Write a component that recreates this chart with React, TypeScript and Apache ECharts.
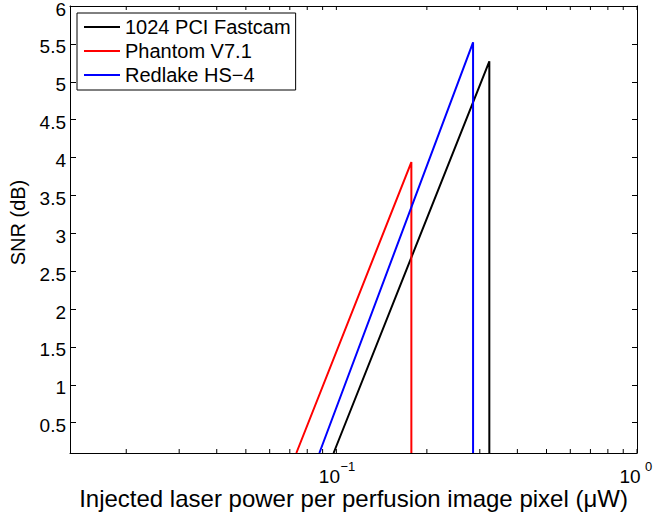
import React, { useEffect, useRef } from 'react';
import * as echarts from 'echarts';

// ---- data ----
const seriesNames = ['1024 PCI Fastcam', 'Phantom V7.1', 'Redlake HS−4'];
const seriesColors = ['#000000', '#ff0000', '#0000ff'];

const fastcamPower = [0.0979, 0.3227, 0.3227];
const fastcamSNR = [0.1, 5.27, 0.1];
const phantomPower = [0.0736, 0.1776, 0.1776];
const phantomSNR = [0.1, 3.94, 0.1];
const redlakePower = [0.0878, 0.2849, 0.2849];
const redlakeSNR = [0.1, 5.52, 0.1];

const yTickValues = [0.5, 1, 1.5, 2, 2.5, 3, 3.5, 4, 4.5, 5, 5.5, 6];
const xTickValues = [0.02, 0.03, 0.04, 0.05, 0.06, 0.07, 0.08, 0.09, 0.1, 0.2, 0.3, 0.4, 0.5, 0.6, 0.7, 0.8, 0.9, 1];

const X_MIN = 0.013;
const X_MAX = 1;
const Y_MIN = 0.1;
const Y_MAX = 6;

const FONT = "'Liberation Sans', Arial, Helvetica, sans-serif";

function pairs(xs: number[], ys: number[]) {
  return xs.map((x, i) => [x, ys[i]]);
}

function decadeExponent(v: number): number | null {
  const l = Math.log10(v);
  const e = Math.round(l);
  return Math.abs(l - e) < 1e-6 ? e : null;
}

export default function App() {
  const ref = useRef<HTMLDivElement>(null);

  useEffect(() => {
    if (!ref.current) return;
    const chart = echarts.init(ref.current, null, { renderer: 'svg' });

    const powers = [fastcamPower, phantomPower, redlakePower];
    const snrs = [fastcamSNR, phantomSNR, redlakeSNR];

    const lineSeries = seriesNames.map((name, i) => ({
      name,
      type: 'line',
      xAxisIndex: 0,
      yAxisIndex: 0,
      data: pairs(powers[i], snrs[i]),
      symbol: 'none',
      showSymbol: false,
      color: seriesColors[i],
      lineStyle: { color: seriesColors[i], width: 2 },
      clip: true,
      z: 3,
    }));

    const option: any = {
      animation: false,
      backgroundColor: '#ffffff',
      textStyle: { fontFamily: FONT, color: '#000' },
      grid: { left: 70, top: 6, right: 16, bottom: 62, containLabel: false, outerBoundsMode: 'none' },
      legend: {
        data: seriesNames.map((n) => ({ name: n, icon: 'rect' })),
        orient: 'vertical',
        left: 77,
        top: 13,
        padding: [4, 5, 5, 7],
        itemGap: 4,
        itemWidth: 36,
        itemHeight: 2,
        backgroundColor: '#ffffff',
        borderColor: '#000000',
        borderWidth: 1,
        borderRadius: 0,
        textStyle: { fontFamily: FONT, fontSize: 20, color: '#000' },
      },
      xAxis: [
        {
          type: 'log',
          logBase: 10,
          min: X_MIN,
          max: X_MAX,
          position: 'bottom',
          axisLine: { show: true, lineStyle: { color: '#000', width: 1 } },
          axisTick: { show: false },
          splitLine: { show: false },
          axisLabel: {
            margin: 16,
            color: '#000',
            fontFamily: FONT,
            fontSize: 19,
            lineHeight: 14,
            padding: [0, 14, 0, 0],
            formatter: (v: number) => (decadeExponent(v) === null ? '' : '10'),
          },
          name: 'Injected laser power per perfusion image pixel (μW)',
          nameLocation: 'middle',
          nameGap: 33,
          nameMoveOverlap: false,
          nameTextStyle: { fontFamily: FONT, fontSize: 24, color: '#000' },
        },
        {
          type: 'log',
          logBase: 10,
          min: X_MIN,
          max: X_MAX,
          position: 'top',
          axisLine: { show: true, lineStyle: { color: '#000', width: 1 } },
          axisTick: { show: false },
          splitLine: { show: false },
          axisLabel: { show: false },
        },
        {
          // exponents of the decade labels (superscripts)
          type: 'log',
          logBase: 10,
          min: X_MIN,
          max: X_MAX,
          position: 'bottom',
          axisLine: { show: false },
          axisTick: { show: false },
          splitLine: { show: false },
          axisLabel: {
            margin: 9,
            color: '#000',
            fontFamily: FONT,
            fontSize: 13,
            lineHeight: 8,
            padding: [0, 0, 0, 23],
            formatter: (v: number) => {
              const e = decadeExponent(v);
              if (e === null) return '';
              return e < 0 ? '−' + -e : String(e);
            },
          },
        },
      ],
      yAxis: [
        {
          type: 'value',
          min: Y_MIN,
          max: Y_MAX,
          position: 'left',
          axisLine: { show: true, lineStyle: { color: '#000', width: 1 } },
          axisTick: { show: true, inside: true, length: 6, customValues: yTickValues, lineStyle: { color: '#000' } },
          splitLine: { show: false },
          axisLabel: {
            customValues: yTickValues,
            margin: 4,
            fontFamily: FONT,
            fontSize: 19,
            lineHeight: 6,
            verticalAlign: 'top',
            color: '#000',
          },
          name: 'SNR (dB)',
          nameLocation: 'middle',
          nameRotate: 90,
          nameGap: 42,
          nameMoveOverlap: false,
          nameTextStyle: { fontFamily: FONT, fontSize: 20, color: '#000', padding: [0, 0, 0, 14] },
        },
        {
          type: 'value',
          min: Y_MIN,
          max: Y_MAX,
          position: 'right',
          axisLine: { show: true, lineStyle: { color: '#000', width: 1 } },
          axisTick: { show: true, inside: true, length: 5, customValues: yTickValues, lineStyle: { color: '#000' } },
          splitLine: { show: false },
          axisLabel: { show: false },
        },
      ],
      series: [
        {
          type: 'custom',
          name: 'xticks',
          xAxisIndex: 0,
          yAxisIndex: 0,
          silent: true,
          data: xTickValues.map((v) => [v, Y_MIN]),
          encode: { x: 0, y: 1 },
          renderItem: (params: any, api: any) => {
            const v = api.value(0);
            const b = api.coord([v, Y_MIN]);
            const t = api.coord([v, Y_MAX]);
            return {
              type: 'group',
              children: [
                { type: 'line', shape: { x1: b[0], y1: b[1], x2: b[0], y2: b[1] - 4 }, style: { stroke: '#000', lineWidth: 1 } },
                { type: 'line', shape: { x1: t[0], y1: t[1], x2: t[0], y2: t[1] + 4 }, style: { stroke: '#000', lineWidth: 1 } },
              ],
            };
          },
          z: 2,
        },
        ...lineSeries,
      ],
    };

    chart.setOption(option);
    return () => chart.dispose();
  }, []);

  return (
    <div
      ref={ref}
      style={{ position: 'absolute', left: 0, top: 0, width: 653, height: 515, background: '#fff' }}
    />
  );
}
